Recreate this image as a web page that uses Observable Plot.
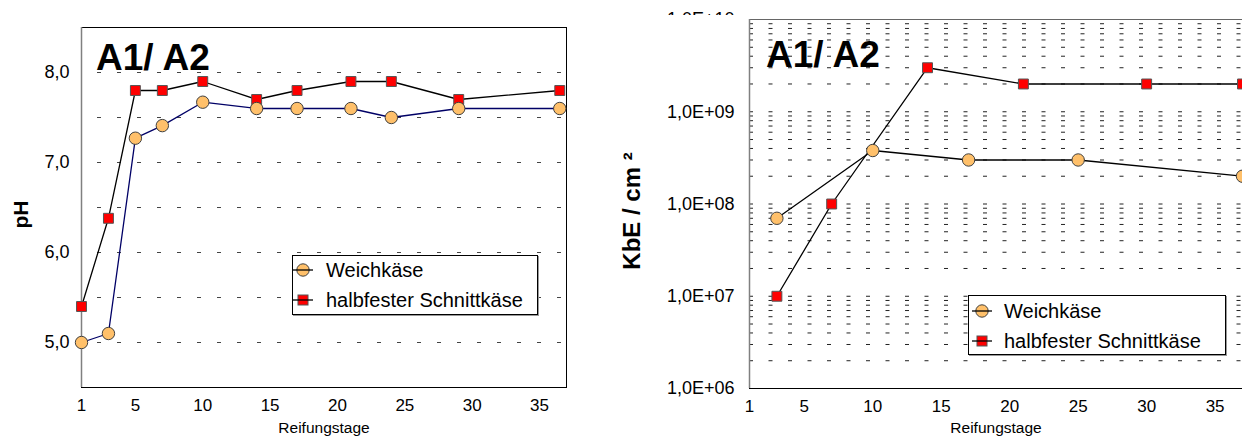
<!DOCTYPE html>
<html><head><meta charset="utf-8">
<script src="https://cdn.jsdelivr.net/npm/d3@7"></script>
<script src="https://cdn.jsdelivr.net/npm/@observablehq/plot@0.6"></script>
<style>
html,body{margin:0;padding:0;background:#fff;overflow:hidden;}
#wrap{position:relative;width:1242px;height:443px;overflow:hidden;font-family:"Liberation Sans",Arial,sans-serif;}
.panel{position:absolute;top:0;}
.title{position:absolute;font-weight:bold;font-size:37px;line-height:37px;color:#000;white-space:nowrap;}
.legend{position:absolute;border:1px solid #000;background:#fff;box-shadow:1px 1px 0 #999;box-sizing:border-box;}
.legend .sym{position:absolute;}
.legend .lbl{position:absolute;font-size:20px;line-height:20px;white-space:nowrap;color:#000;}
.mask{position:absolute;background:#fff;}
</style></head>
<body><div id="wrap"></div>
<script>
// ---- data: left panel (pH) ----
const phDays = [1, 3, 5, 7, 10, 14, 17, 21, 24, 29, 36.5];
const phWeich = [5.0, 5.1, 7.27, 7.41, 7.67, 7.6, 7.6, 7.6, 7.5, 7.6, 7.6];
const phSchnitt = [5.4, 6.38, 7.8, 7.8, 7.9, 7.7, 7.8, 7.9, 7.9, 7.7, 7.8];
// ---- data: right panel (KbE / cm²) ----
const kbeDaysWeich = [3, 10, 17, 25, 37];
const kbeWeich = [7e7, 3.8e8, 3e8, 3e8, 2e8];
const kbeDaysSchnitt = [3, 7, 14, 21, 30, 37];
const kbeSchnitt = [1e7, 1e8, 3e9, 2e9, 2e9, 2e9];
// ---- ticks / labels ----
const xTicks = [1, 5, 10, 15, 20, 25, 30, 35];
const phTicks = [5, 6, 7, 8];
const phGrid = [5, 5.5, 6, 6.5, 7, 7.5, 8];
const kbeTicks = [1e6, 1e7, 1e8, 1e9, 1e10];
const seriesNames = ["Weichkäse", "halbfester Schnittkäse"];
const titleText = "A1/ A2";
const xLabel = "Reifungstage";
const yLabelLeft = "pH";
const yLabelRight = "KbE / cm ²";

const FONT = '"Liberation Sans", Arial, sans-serif';
const softFill = "#FFC06A", semiFill = "#FF0000";

const kbeGrid = [];
for (let e = 6; e <= 9; e++) for (let k = 1; k <= 9; k++) { const v = k * Math.pow(10, e); if (v > 1e6) kbeGrid.push(v); }

const phSoftData = phDays.map((d, i) => ({d, v: phWeich[i]}));
const phSemiData = phDays.map((d, i) => ({d, v: phSchnitt[i]}));
const kSoftData = kbeDaysWeich.map((d, i) => ({d, v: kbeWeich[i]}));
const kSemiData = kbeDaysSchnitt.map((d, i) => ({d, v: kbeSchnitt[i]}));

const wrap = document.getElementById("wrap");

const left = Plot.plot({
  width: 620, height: 443,
  marginLeft: 81, marginRight: 54, marginTop: 27, marginBottom: 56,
  style: {fontFamily: FONT, background: "transparent", color: "#000"},
  x: {domain: [1, 37]},
  y: {domain: [4.5, 8.5]},
  marks: [
    Plot.ruleY(phGrid, {stroke: "#444", strokeWidth: 1, strokeDasharray: "4,16", strokeDashoffset: 4}),
    Plot.frame({stroke: "#000"}),
    Plot.ruleX([1], {stroke: "#808080", strokeWidth: 1.5}),
    Plot.axisX({ticks: xTicks, tickSize: 0, tickPadding: 11, fontSize: 17, label: null, tickFormat: d => String(d)}),
    Plot.axisY({ticks: phTicks, tickSize: 0, tickPadding: 12, fontSize: 18, label: null, tickFormat: d => d3.format(".1f")(d).replace(".", ",")}),
    Plot.line(phSoftData, {x: "d", y: "v", stroke: "#000066", strokeWidth: 1.3}),
    Plot.line(phSemiData, {x: "d", y: "v", stroke: "#000", strokeWidth: 1.3}),
    Plot.dot(phSemiData, {x: "d", y: "v", symbol: "square", r: 5.6, fill: semiFill, stroke: "#555", strokeWidth: 1}),
    Plot.dot(phSoftData, {x: "d", y: "v", r: 6.2, fill: softFill, stroke: "#404040", strokeWidth: 1}),
    Plot.text([xLabel], {text: d => d, frameAnchor: "bottom", dy: 45, fontSize: 15.5}),
    Plot.text([yLabelLeft], {text: d => d, frameAnchor: "left", textAnchor: "middle", dx: -60, dy: 7, rotate: -90, fontWeight: "bold", fontSize: 21})
  ]
});
left.classList.add("panel");
left.style.left = "0px";
wrap.appendChild(left);

const right = Plot.plot({
  width: 646, height: 443,
  marginLeft: 149, marginRight: 4, marginTop: 19, marginBottom: 55,
  style: {fontFamily: FONT, background: "transparent", color: "#000"},
  x: {domain: [1, 37]},
  y: {type: "log", domain: [1e6, 1e10]},
  marks: [
    Plot.ruleY(kbeGrid, {stroke: "#222", strokeWidth: 1, strokeDasharray: "4,15.5", strokeDashoffset: 0}),
    Plot.frame({stroke: "#000"}),
    Plot.ruleY([1e10], {stroke: "#666", strokeWidth: 1.2}),
    Plot.ruleX([1], {stroke: "#808080", strokeWidth: 1.5}),
    Plot.axisX({ticks: xTicks, tickSize: 0, tickPadding: 11, fontSize: 17, label: null, tickFormat: d => String(d)}),
    Plot.axisY({ticks: kbeTicks, tickSize: 0, tickPadding: 15, fontSize: 18, label: null,
      tickFormat: d => "1,0E+" + String(Math.round(Math.log10(d))).padStart(2, "0")}),
    Plot.line(kSoftData, {x: "d", y: "v", stroke: "#000", strokeWidth: 1.3}),
    Plot.line(kSemiData, {x: "d", y: "v", stroke: "#000", strokeWidth: 1.3}),
    Plot.dot(kSemiData, {x: "d", y: "v", symbol: "square", r: 5.6, fill: semiFill, stroke: "#555", strokeWidth: 1}),
    Plot.dot(kSoftData, {x: "d", y: "v", r: 6.2, fill: softFill, stroke: "#404040", strokeWidth: 1}),
    Plot.text([xLabel], {text: d => d, frameAnchor: "bottom", dy: 44, fontSize: 15.5}),
    Plot.text([yLabelRight], {text: d => d, frameAnchor: "left", textAnchor: "middle", dx: -117, dy: 7, rotate: -90, fontWeight: "bold", fontSize: 24})
  ]
});
right.classList.add("panel");
right.style.left = "600px";
wrap.appendChild(right);

// mask hiding most of the top tick label, as in the reference
const mask = document.createElement("div");
mask.className = "mask";
Object.assign(mask.style, {left: "640px", top: "15px", width: "106px", height: "14px"});
wrap.appendChild(mask);

function addTitle(x, top) {
  const t = document.createElement("div");
  t.className = "title";
  t.textContent = titleText;
  t.style.left = x + "px"; t.style.top = top + "px";
  wrap.appendChild(t);
}
addTitle(96, 39);
addTitle(766, 36);

function symbolSvg(kind) {
  const ns = "http://www.w3.org/2000/svg";
  const s = document.createElementNS(ns, "svg");
  s.setAttribute("width", 22); s.setAttribute("height", 16);
  const ln = document.createElementNS(ns, "line");
  ln.setAttribute("x1", 1); ln.setAttribute("x2", 21); ln.setAttribute("y1", 8); ln.setAttribute("y2", 8);
  ln.setAttribute("stroke", "#000"); ln.setAttribute("stroke-width", 1.3);
  s.appendChild(ln);
  if (kind === 0) {
    const c = document.createElementNS(ns, "circle");
    c.setAttribute("cx", 11); c.setAttribute("cy", 8); c.setAttribute("r", 6.2);
    c.setAttribute("fill", softFill); c.setAttribute("stroke", "#404040");
    s.insertBefore(c, ln);
  } else {
    const r = document.createElementNS(ns, "rect");
    r.setAttribute("x", 6); r.setAttribute("y", 3); r.setAttribute("width", 10); r.setAttribute("height", 10);
    r.setAttribute("fill", semiFill); r.setAttribute("stroke", "#555");
    s.insertBefore(r, ln);
  }
  return s;
}

function addLegend(x, y, w, h, symX, txtX, rows) {
  const box = document.createElement("div");
  box.className = "legend";
  Object.assign(box.style, {left: x + "px", top: y + "px", width: w + "px", height: h + "px"});
  seriesNames.forEach((name, i) => {
    const sym = symbolSvg(i);
    sym.classList.add("sym");
    sym.style.left = (symX - 11) + "px";
    sym.style.top = (rows[i] - 8) + "px";
    box.appendChild(sym);
    const l = document.createElement("div");
    l.className = "lbl";
    l.textContent = name;
    l.style.left = txtX + "px";
    l.style.top = (rows[i] - 10) + "px";
    box.appendChild(l);
  });
  wrap.appendChild(box);
}
addLegend(292, 255, 246, 60, 10, 33, [14, 44]);
addLegend(968, 295, 258, 60, 13, 35, [15, 44.5]);
</script>
</body></html>
